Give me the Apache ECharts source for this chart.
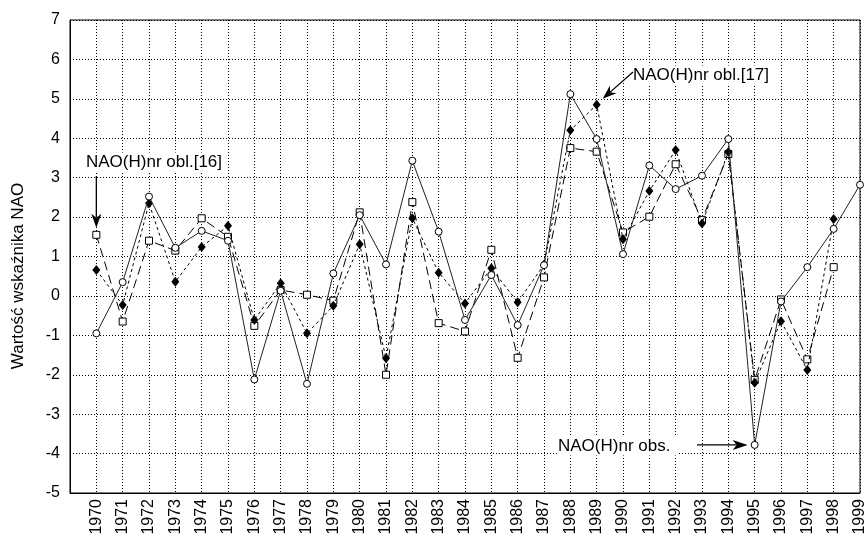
<!DOCTYPE html>
<html>
<head>
<meta charset="utf-8">
<script src="https://cdn.jsdelivr.net/npm/echarts@6/dist/echarts.min.js"></script>
<style>
html,body{margin:0;padding:0;background:#fff;}
#c{width:868px;height:540px;}
</style>
</head>
<body>
<div id="c"></div>
<script>
// ---- data ----
var years = [1970,1971,1972,1973,1974,1975,1976,1977,1978,1979,1980,1981,1982,1983,1984,1985,1986,1987,1988,1989,1990,1991,1992,1993,1994,1995,1996,1997,1998,1999];
var obsValues = [-0.95,0.35,2.52,1.22,1.65,1.40,-2.12,0.13,-2.23,0.57,2.05,0.80,3.43,1.63,-0.61,0.53,-0.74,0.78,5.12,3.98,1.06,3.31,2.71,3.05,3.98,-3.78,-0.14,0.73,1.70,2.82];
var obl16Values = [1.55,-0.65,1.40,1.15,1.97,1.50,-0.76,0.15,0.03,-0.12,2.12,-2.00,2.38,-0.69,-0.90,1.17,-1.57,0.47,3.75,3.66,1.61,2.01,3.34,1.93,3.60,-2.13,-0.09,-1.61,0.73];
var obl17Values = [0.66,-0.23,2.35,0.36,1.24,1.78,-0.61,0.32,-0.95,-0.25,1.31,-1.58,1.97,0.59,-0.19,0.70,-0.16,0.79,4.20,4.85,1.44,2.66,3.70,1.84,3.65,-2.20,-0.64,-1.88,1.95];
var yTicks = [-5,-4,-3,-2,-1,0,1,2,3,4,5,6,7];
var yTitle = 'Wartość wskaźnika NAO';
var labelObs = 'NAO(H)nr obs.';
var label16 = 'NAO(H)nr obl.[16]';
var label17 = 'NAO(H)nr obl.[17]';

function pairs(vals){ return vals.map(function(v,i){ return [years[i], v]; }); }

var FONT = '"Liberation Sans", Arial, sans-serif';
var chart = echarts.init(document.getElementById('c'), null, {renderer:'canvas'});
var grid = {left:70, right:8, top:20, bottom:47, show:true, borderColor:'#000', borderWidth:1};
var gridLine = {show:true, lineStyle:{color:'#000', width:1, type:[1,2]}};

chart.setOption({
  animation:false,
  backgroundColor:'#fff',
  grid: grid,
  xAxis: {
    type:'value', min:years[0]-1, max:years[years.length-1], interval:1,
    axisLine:{show:true, onZero:false, lineStyle:{color:'#000', width:1}},
    axisTick:{show:false},
    splitLine: gridLine,
    axisLabel:{
      rotate:90, margin:6, color:'#000', fontSize:16, fontFamily:FONT,
      formatter:function(v){ return years.indexOf(v) >= 0 ? String(v) : ''; }
    }
  },
  yAxis: {
    type:'value', min:yTicks[0], max:yTicks[yTicks.length-1], interval:1,
    axisLine:{show:true, onZero:false, lineStyle:{color:'#000', width:1}},
    axisTick:{show:false},
    splitLine: gridLine,
    axisLabel:{color:'#000', fontSize:16, fontFamily:FONT, margin:10}
  },
  series: [
    {
      name:label16, type:'line', data:pairs(obl16Values),
      symbol:'rect', symbolSize:7, showAllSymbol:true,
      lineStyle:{color:'#000', width:1, type:[9,5]},
      itemStyle:{color:'#fff', borderColor:'#000', borderWidth:1},
      z:2
    },
    {
      name:label17, type:'line', data:pairs(obl17Values),
      symbol:'diamond', symbolSize:[8,10], showAllSymbol:true,
      lineStyle:{color:'#000', width:1, type:[3,3]},
      itemStyle:{color:'#000', borderColor:'#000', borderWidth:0},
      z:3
    },
    {
      name:labelObs, type:'line', data:pairs(obsValues),
      symbol:'circle', symbolSize:7, showAllSymbol:true,
      lineStyle:{color:'#222', width:1, type:'solid'},
      itemStyle:{color:'#fff', borderColor:'#000', borderWidth:1},
      z:4
    }
  ]
});

function px(x,y){ return chart.convertToPixel({gridIndex:0}, [x,y]); }
function arrow(p1, p2, len, half){
  var dx = p2[0]-p1[0], dy = p2[1]-p1[1];
  var d = Math.sqrt(dx*dx+dy*dy); var ux = dx/d, uy = dy/d;
  var bx = p2[0]-ux*len, by = p2[1]-uy*len;
  return [
    {type:'line', shape:{x1:p1[0], y1:p1[1], x2:bx+ux*4, y2:by+uy*4}, style:{stroke:'#000', lineWidth:1.3}, z:10},
    {type:'polygon', shape:{points:[[p2[0],p2[1]],[bx-uy*half, by+ux*half],[bx+ux*4, by+uy*4],[bx+uy*half, by-ux*half]]}, style:{fill:'#000'}, z:10}
  ];
}

var p1970 = px(years[0], obl16Values[0]);
var p1989 = px(years[19], obl17Values[19]);
var p1995 = px(years[25], obsValues[25]);

var g = [];
g.push({type:'text', x:18, y:276, rotation:Math.PI/2, style:{text:yTitle, font:'17px '+FONT, fill:'#000', textAlign:'center', textVerticalAlign:'middle'}});
g.push({type:'text', x:85, y:162, style:{text:label16, font:'17px '+FONT, fill:'#000', textAlign:'left', textVerticalAlign:'middle', backgroundColor:'#fff', padding:[1,1]}, z:9});
g.push({type:'text', x:632, y:75, style:{text:label17, font:'17px '+FONT, fill:'#000', textAlign:'left', textVerticalAlign:'middle', backgroundColor:'#fff', padding:[1,1]}, z:9});
g.push({type:'text', x:557, y:446, style:{text:labelObs, font:'17px '+FONT, fill:'#000', textAlign:'left', textVerticalAlign:'middle', backgroundColor:'#fff', padding:[1,8,1,1]}, z:9});
g = g.concat(arrow([p1970[0], 176], [p1970[0], p1970[1]-7], 14, 5));
g = g.concat(arrow([633, 72], [p1989[0]+6, p1989[1]-6], 14, 5));
g = g.concat(arrow([697, p1995[1]], [p1995[0]-7, p1995[1]], 15, 5));
chart.setOption({graphic:g});
</script>
</body>
</html>
